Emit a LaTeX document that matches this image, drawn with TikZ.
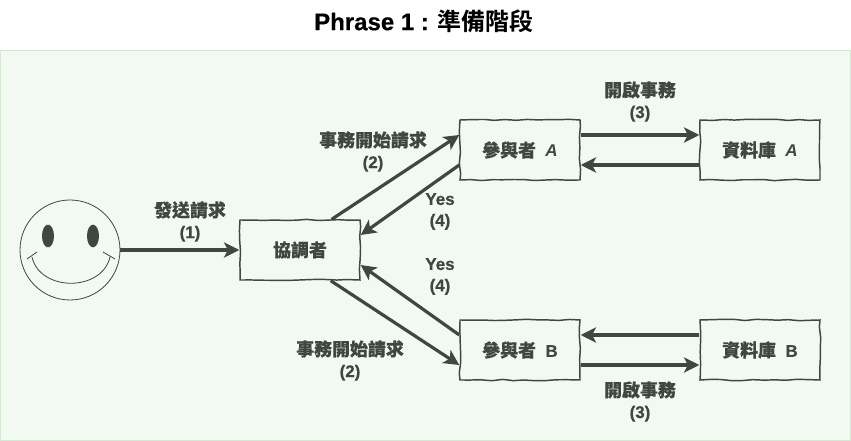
\documentclass[tikz,border=0pt]{standalone}
\usepackage{fontspec}
\setmainfont{Liberation Sans}[BoldFeatures={FakeBold=0.5}]
\newfontfamily\cjklabel[Scale=1.055,FakeBold=0.2]{Noto Sans CJK TC}
\newfontfamily\cjktitle[BoldFont={Noto Sans CJK TC Bold}]{Noto Sans CJK TC}
\usetikzlibrary{arrows.meta,shapes.geometric,decorations.pathmorphing}
\definecolor{phInk}  {HTML}{3E4840}
\definecolor{phPanel}{HTML}{F2F8F2}
\definecolor{phRule} {HTML}{D5E8D4}
\tikzset{
  labeltext/.style={text=phInk,font=\fontsize{12.75pt}{16pt}\selectfont\bfseries,align=center,inner sep=0pt},
  sketchbox/.style={draw=phInk,line width=1.1pt,labeltext,minimum width=90pt,minimum height=45pt,
    decorate,decoration={random steps,segment length=8pt,amplitude=0.55pt}},
  flow/.style={draw=phInk,line width=2.4pt,-{Stealth[length=11.5pt,width=11.5pt,inset=3pt]}},
  face/.style={draw=phInk,line width=0.6pt},
  eyeball/.style={fill=phInk,ellipse,minimum width=9pt,minimum height=17pt,inner sep=0pt},
}
\begin{document}
\begin{tikzpicture}[x=0.75pt,y=-0.75pt]
        \pgfmathsetseed{11}
        \useasboundingbox (0,0) rectangle (851,441);
        \draw[draw=phRule,fill=phPanel,line width=0.75pt] (0.5,50.5) rectangle (850.5,440.5);
        \node[font=\fontsize{18pt}{22pt}\selectfont\bfseries,inner sep=0pt] (title) at (424,21) {Phrase 1 : {\cjktitle 準備階段}};

        \node[face,circle,minimum size=75pt,inner sep=0pt] (user) at (70,250) {};
        \node[eyeball] (eyeL) at (48,236) {};
        \node[eyeball] (eyeR) at (93,236) {};
        \draw[face] (32,257) .. controls (40,292) and (102,292) .. (110,257);
        \draw[face] (27,259) -- (37,252);
        \draw[face] (103,252) -- (115,259);

        \node[sketchbox] (coordinator) at (300,250) {{\cjklabel 協調者}};
        \node[sketchbox] (partA) at (520,150) {{\cjklabel 參與者}\ \ \textit{A}};
        \node[sketchbox] (partB) at (520,350) {{\cjklabel 參與者}\ \ B};
        \node[sketchbox] (dbA) at (760,150) {{\cjklabel 資料庫}\ \ \textit{A}};
        \node[sketchbox] (dbB) at (760,350) {{\cjklabel 資料庫}\ \ B};

        \draw[flow] (user.east) -- (coordinator.west);
        \draw[flow] ([xshift=-21.75pt]coordinator.north east) -- ([yshift=11.25pt]partA.west);
        \draw[flow] ([yshift=-11.25pt]partA.west) -- ([yshift=11.25pt]coordinator.east);
        \draw[flow] ([xshift=-22.5pt]coordinator.south east) -- ([yshift=-11.25pt]partB.west);
        \draw[flow] ([yshift=11.25pt]partB.west) -- ([yshift=-11.25pt]coordinator.east);
        \draw[flow] ([yshift=11.25pt]partA.east) -- ([yshift=11.25pt]dbA.west);
        \draw[flow] ([yshift=-11.25pt]dbA.west) -- ([yshift=-11.25pt]partA.east);
        \draw[flow] ([yshift=11.25pt]dbB.west) -- ([yshift=11.25pt]partB.east);
        \draw[flow] ([yshift=-11.25pt]partB.east) -- ([yshift=-11.25pt]dbB.west);

        \node[labeltext] (sendLabel) at (190,221.5) {{\cjklabel 發送請求}\\(1)};
        \node[labeltext] (beginLabelA) at (373,151.5) {{\cjklabel 事務開始請求}\\(2)};
        \node[labeltext] (beginLabelB) at (350,360.5) {{\cjklabel 事務開始請求}\\(2)};
        \node[labeltext] (openLabelA) at (640,101.5) {{\cjklabel 開啟事務}\\(3)};
        \node[labeltext] (openLabelB) at (640,401.5) {{\cjklabel 開啟事務}\\(3)};
        \node[labeltext] (yesLabelA) at (440,211.5) {Yes\\(4)};
        \node[labeltext] (yesLabelB) at (440,276.5) {Yes\\(4)};
      \end{tikzpicture}
\end{document}
